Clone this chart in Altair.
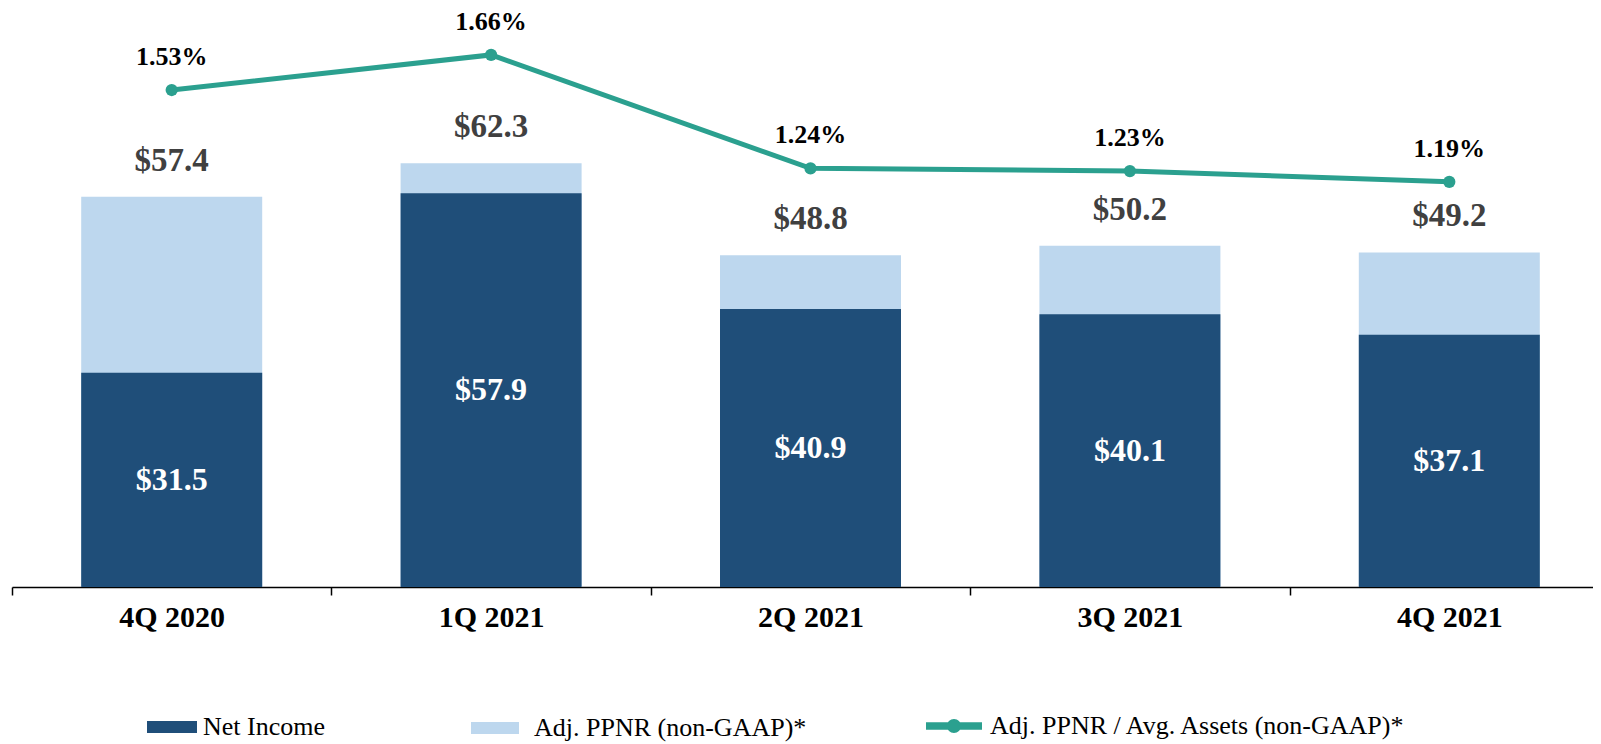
import altair as alt
import pandas as pd

quarters = ["4Q 2020", "1Q 2021", "2Q 2021", "3Q 2021", "4Q 2021"]
net_income = [31.5, 57.9, 40.9, 40.1, 37.1]
adj_ppnr = [57.4, 62.3, 48.8, 50.2, 49.2]
ppnr_pct = [1.53, 1.66, 1.24, 1.23, 1.19]

NAME_NI = "Net Income"
NAME_PPNR = "Adj. PPNR (non-GAAP)*"
NAME_PCT = "Adj. PPNR / Avg. Assets (non-GAAP)*"

DARK = "#1F4E79"
LIGHT = "#BDD7EE"
TEAL = "#2BA08F"
FONT = "Liberation Serif"

df = pd.DataFrame({"q": quarters, "ni": net_income, "ppnr": adj_ppnr, "pct": ppnr_pct})

xscale = alt.Scale(domain=quarters, range=[0, 1597], paddingInner=0, paddingOuter=0)
xaxis = alt.Axis(
    title=None, labelAngle=0, labelFont=FONT, labelFontSize=30, labelFontWeight="bold",
    labelColor="black", labelPadding=7, tickBand="extent", ticks=True, tickSize=8,
    tickColor="black", tickWidth=1.5, domainColor="black", domainWidth=1.5, grid=False,
)
x = alt.X("q:N", sort=quarters, scale=xscale, axis=xaxis)
ybar = alt.Scale(domain=[0, 85])
ypct = alt.Scale(domain=[-0.31, 1.83])

leg_common = dict(
    orient="none", title=None, padding=0, offset=0, labelFont=FONT, labelFontSize=26,
    labelColor="black", labelLimit=1000, symbolStrokeWidth=0, symbolOpacity=1,
)

base = alt.Chart(df)

light = base.mark_bar(size=181).transform_calculate(s1=f'"{NAME_PPNR}"').encode(
    x=x,
    y=alt.Y("ppnr:Q", scale=ybar, axis=None),
    color=alt.Color("s1:N", scale=alt.Scale(domain=[NAME_PPNR], range=[LIGHT]),
                    legend=alt.Legend(symbolType="M-1,-0.25H1V0.25H-1Z", symbolSize=2304,
                                      symbolFillColor="#A3C6E8",
                                      legendX=459, legendY=695, labelOffset=15, **leg_common)),
)

dark = base.mark_bar(size=181).transform_calculate(s2=f'"{NAME_NI}"').encode(
    x=x,
    y=alt.Y("ni:Q", scale=ybar, axis=None),
    color=alt.Color("s2:N", scale=alt.Scale(domain=[NAME_NI], range=[DARK]),
                    legend=alt.Legend(symbolType="M-1,-0.24H1V0.24H-1Z", symbolSize=2500,
                                      legendX=135, legendY=693, labelOffset=6, **leg_common)),
)

top_labels = base.mark_text(
    baseline="alphabetic", dy=-26, font=FONT, fontSize=33, fontWeight="bold", color="#404040"
).transform_calculate(lab='"$" + format(datum.ppnr, ".1f")').encode(
    x=x, y=alt.Y("ppnr:Q", scale=ybar, axis=None), text="lab:N"
)

inner_labels = base.mark_text(
    baseline="middle", font=FONT, fontSize=32, fontWeight="bold", color="white"
).transform_calculate(
    lab='"$" + format(datum.ni, ".1f")', mid="datum.ni / 2"
).encode(x=x, y=alt.Y("mid:Q", scale=ybar, axis=None), text="lab:N")

line = base.mark_line(color=TEAL, strokeWidth=5).encode(
    x=x, y=alt.Y("pct:Q", scale=ypct, axis=None)
)

points = base.mark_circle(size=150, opacity=1).transform_calculate(s3=f'"{NAME_PCT}"').encode(
    x=x,
    y=alt.Y("pct:Q", scale=ypct, axis=None),
    color=alt.Color("s3:N", scale=alt.Scale(domain=[NAME_PCT], range=[TEAL]),
                    legend=alt.Legend(
                        symbolType="M-1,-0.13H1V0.13H-1Z M0.25,0A0.25,0.25 0 1,1 -0.25,0A0.25,0.25 0 1,1 0.25,0Z",
                        symbolSize=3136, legendX=914, legendY=689, labelOffset=8, **leg_common)),
)

pct_labels = base.mark_text(
    baseline="alphabetic", dy=-25, font=FONT, fontSize=26, fontWeight="bold", color="black"
).transform_calculate(lab='format(datum.pct, ".2f") + "%"').encode(
    x=x, y=alt.Y("pct:Q", scale=ypct, axis=None), text="lab:N"
)

chart = alt.layer(
    light, dark, top_labels, inner_labels, line, points, pct_labels
).resolve_scale(y="independent", color="independent").resolve_legend(color="independent").properties(
    width=1581, height=578,
    autosize=alt.AutoSizeParams(type="none"),
    padding={"left": 4, "top": 1, "right": 0, "bottom": 157},
).configure_view(stroke=None)

chart.save("out.html", embed_options={"renderer": "svg", "actions": False})
